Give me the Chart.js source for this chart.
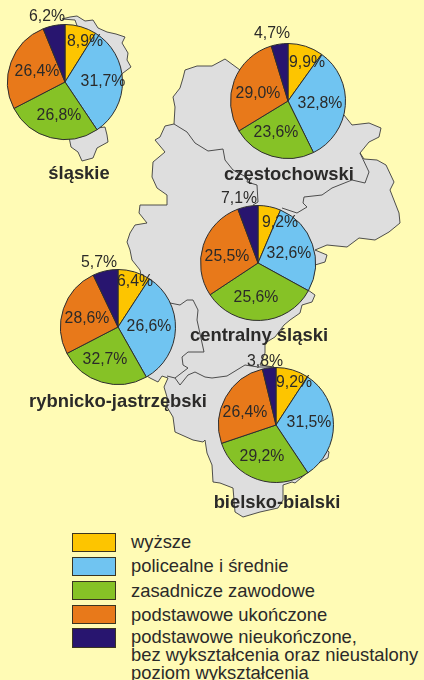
<!DOCTYPE html>
<html lang="pl">
<head>
<meta charset="utf-8">
<title>Poziom wykształcenia</title>
<script src="https://cdn.jsdelivr.net/npm/chart.js@4"></script>
<style>
  html, body { margin: 0; padding: 0; }
  body { width: 424px; height: 680px; background: #fffbb5; position: relative; overflow: hidden;
         font-family: "Liberation Sans", Arial, sans-serif; color: #2b2a29; }
  #map { position: absolute; left: 0; top: 0; }
  canvas { position: absolute; }
  .name { position: absolute; font-weight: bold; font-size: 18.4px; white-space: nowrap; transform: translate(-50%, -50%); }
  .swatch { position: absolute; left: 72px; width: 44px; box-sizing: border-box; border: 1px solid #3a3420; }
  .item { position: absolute; left: 131px; font-size: 18.4px; line-height: 18px; white-space: nowrap; }
</style>
</head>
<body>
<svg id="map" width="424" height="680" fill="#dedede" stroke="#3c3c3c" stroke-width="0.9" stroke-linejoin="round">
  <path d="M75 20 L62 19 L70 17 L77 16 L85 21 L93 20 L98 28 L107 32 L116 34 L125 37 L122 43 L128 53 L127 60 L131 67 L123 73 L100 90 Z"/>
  <path d="M97 128 L105 127 L107 135 L108 142 L97 148 L93 158 L82 161 L78 152 L71 147 L69 137 L80 125 Z"/>
  <path d="M212 66 L225 59 L240 70 L290 100 L344 115 L352 125 L369 123 L381 128 L379 137 L369 142 L360 153 L364 159 L377 160 L386 165 L394 182 L390 190 L399 213 L400 223 L389 232 L375 240 L359 238 L347 247 L327 245 L315 250 L327 255 L325 262 L315 265 L308 290 L315 295 L312 302 L302 305 L300 313 L290 320 L284 325 L275 337 L265 343 L265 353 L260 365 L274 367 L300 420 L329 452 L328 458 L320 462 L307 473 L295 483 L292 482 L283 485 L283 500 L278 508 L260 512 L243 517 L235 512 L233 488 L220 483 L213 482 L212 465 L207 453 L205 440 L203 442 L193 440 L175 432 L173 417 L167 407 L167 397 L164 387 L168 378 L162 376 L158 382 L150 378 L147 376 L150 320 L140 270 L132 260 L130 250 L127 242 L130 233 L135 225 L147 223 L139 213 L140 205 L157 205 L167 205 L167 195 L157 188 L152 177 L153 162 L165 152 L155 140 L160 137 L165 126 L174 124 L175 107 L173 97 L180 88 L183 78 L185 70 L197 66 Z"/>
  <path fill="none" d="M174 124 L187 132 L195 143 L208 151 L223 149 L225 160 L233 170 L248 178 L247 182 L257 185 L258 202 L253 205"/>
  <path fill="none" d="M360 153 L369 172 L365 183 L352 180 L332 188 L322 195 L304 197 L303 203 L307 207 L297 213 L282 208"/>
  <path fill="none" d="M170 303 L180 305 L187 300 L193 300 L198 310 L197 320 L204 352 L188 352 L182 357 L183 365 L188 368 L175 378 L167 376"/>
  <path fill="none" d="M175 378 L180 385 L188 375 L195 372 L205 377 L212 378 L227 376 L245 365 L258 367 L274 367"/>
</svg>

<script>
// legend
let categories = ['wyższe', 'policealne i średnie', 'zasadnicze zawodowe', 'podstawowe ukończone',
    'podstawowe nieukończone,\nbez wykształcenia oraz nieustalony\npoziom wykształcenia'];
let colors = ['#fdc500', '#70c4f1', '#86c226', '#e8791a', '#28156f'];

// values printed on the pies
let slaskie = [8.9, 31.7, 26.8, 26.4, 6.2];
let czestochowski = [9.9, 32.8, 23.6, 29.0, 4.7];
let centralny = [9.2, 32.6, 25.6, 25.5, 7.1];
let rybnicki = [6.4, 26.6, 32.7, 28.6, 5.7];
let bielski = [9.2, 31.5, 29.2, 26.4, 3.8];

// in the original picture the wedges of the centralny and rybnicko pies are swapped
// relative to their printed numbers, so wedges and labels are passed separately
let pies = [
    { name: 'śląskie', printed: slaskie, wedges: slaskie, x: 65, y: 82, nameX: 79, nameY: 173,
      offsets: [[20,-40],[38,0],[-6,34],[-28,-10],[-18,-65]] },
    { name: 'częstochowski', printed: czestochowski, wedges: czestochowski, x: 288, y: 101, nameX: 289, nameY: 174,
      offsets: [[19,-38],[32,3],[-12,32],[-30,-7],[-16,-67]] },
    { name: 'centralny śląski', printed: centralny, wedges: rybnicki, x: 258, y: 263, nameX: 259, nameY: 335,
      offsets: [[22,-40],[31,-9],[-2,35],[-31,-6],[-19,-64]] },
    { name: 'rybnicko-jastrzębski', printed: rybnicki, wedges: centralny, x: 118, y: 327, nameX: 118, nameY: 401,
      offsets: [[17,-45],[31,0],[-13,33],[-31,-8],[-19,-64]] },
    { name: 'bielsko-bialski', printed: bielski, wedges: bielski, x: 276, y: 425, nameX: 277, nameY: 502,
      offsets: [[18,-42],[33,-2],[-14,32],[-31,-12],[-11,-63]] }
];

let boxSize = 170;

pies.forEach(pie => {
    let canvas = document.createElement('canvas');
    canvas.width = boxSize;
    canvas.height = boxSize;
    canvas.style.left = (pie.x - boxSize / 2) + 'px';
    canvas.style.top = (pie.y - boxSize / 2) + 'px';
    document.body.appendChild(canvas);

    // percent labels, placed around the pie centre
    let valueLabels = {
        id: 'valueLabels',
        afterDatasetsDraw(chart) {
            let ctx = chart.ctx;
            let arc = chart.getDatasetMeta(0).data[0];
            ctx.save();
            ctx.font = '15.8px "Liberation Sans", Arial, sans-serif';
            ctx.fillStyle = '#2b2a29';
            ctx.textAlign = 'center';
            ctx.textBaseline = 'middle';
            pie.printed.forEach((v, i) => {
                let text = v.toFixed(1).replace('.', ',') + '%';
                ctx.fillText(text, arc.x + pie.offsets[i][0], arc.y + pie.offsets[i][1]);
            });
            ctx.restore();
        }
    };

    new Chart(canvas.getContext('2d'), {
        type: 'pie',
        data: {
            labels: categories,
            datasets: [{
                data: pie.wedges,
                backgroundColor: colors,
                borderColor: '#2e2e2e',
                borderWidth: 1
            }]
        },
        options: {
            responsive: false,
            animation: false,
            radius: 57.5,
            events: [],
            plugins: { legend: { display: false }, tooltip: { enabled: false } }
        },
        plugins: [valueLabels]
    });

    let label = document.createElement('div');
    label.className = 'name';
    label.textContent = pie.name;
    label.style.left = pie.nameX + 'px';
    label.style.top = pie.nameY + 'px';
    document.body.appendChild(label);
});

// legend rows
let swatchTops = [533, 557, 581, 605, 628];
let swatchHeights = [19, 19, 19, 19, 20];
let textTops = [533, 557, 582, 606, 628];

categories.forEach((cat, i) => {
    let box = document.createElement('div');
    box.className = 'swatch';
    box.style.top = swatchTops[i] + 'px';
    box.style.height = swatchHeights[i] + 'px';
    box.style.background = colors[i];
    document.body.appendChild(box);

    let item = document.createElement('div');
    item.className = 'item';
    item.style.top = textTops[i] + 'px';
    item.innerHTML = cat.split('\n').join('<br>');
    document.body.appendChild(item);
});
</script>
</body>
</html>
